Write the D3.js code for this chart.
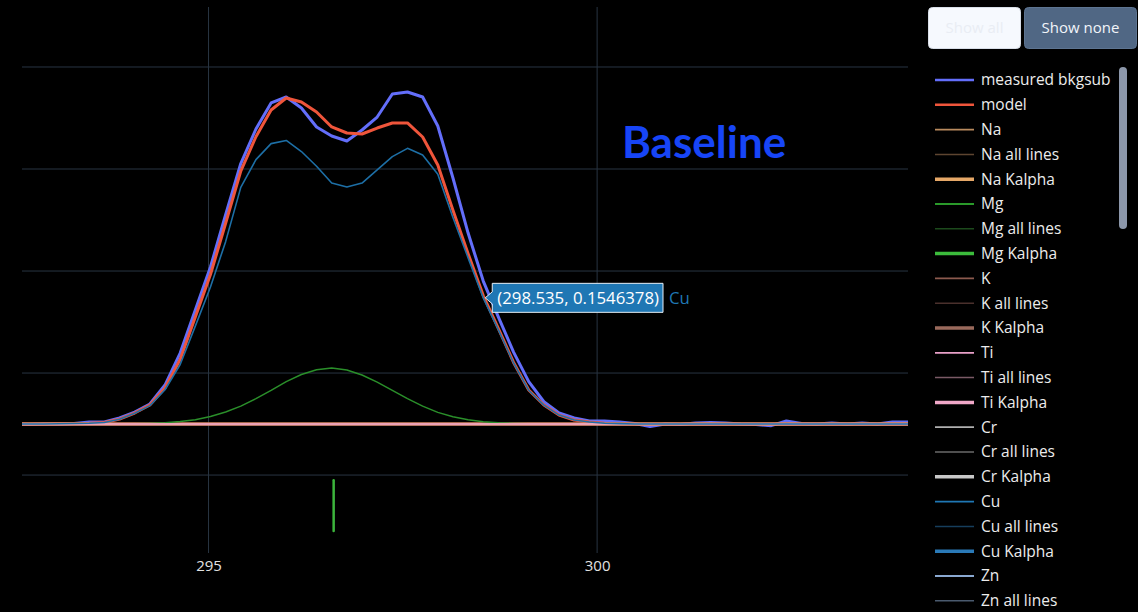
<!DOCTYPE html>
<html>
<head>
<meta charset="utf-8">
<script src="https://cdn.jsdelivr.net/npm/d3@7"></script>
<style>
  html, body { margin: 0; padding: 0; background: #000; }
  svg { display: block; font-family: "Open Sans", sans-serif; }
</style>
</head>
<body>
<svg id="chart" width="1138" height="612"></svg>
<script>
// Energy grid of the spectrum (step 0.195)
const energy = [
  292.490, 292.685, 292.880, 293.075, 293.270, 293.465, 293.660, 293.855, 294.050, 294.245,
  294.440, 294.635, 294.830, 295.025, 295.220, 295.415, 295.610, 295.805, 296.000, 296.195,
  296.390, 296.585, 296.780, 296.975, 297.170, 297.365, 297.560, 297.755, 297.950, 298.145,
  298.340, 298.535, 298.730, 298.925, 299.120, 299.315, 299.510, 299.705, 299.900, 300.095,
  300.290, 300.485, 300.680, 300.875, 301.070, 301.265, 301.460, 301.655, 301.850, 302.045,
  302.240, 302.435, 302.630, 302.825, 303.020, 303.215, 303.410, 303.605, 303.800, 303.995,
  304.190
];

// Background-subtracted measurement
const measuredBkgsub = [
  0, -0.0005, 0, 0.0002, 0.0006, 0.0025, 0.0025, 0.0074, 0.0147, 0.0245,
  0.0478, 0.087, 0.1397, 0.1924, 0.2567, 0.3192, 0.3615, 0.3934, 0.4007, 0.3873,
  0.364, 0.3529, 0.3468, 0.3603, 0.3762, 0.4044, 0.4069, 0.4007, 0.3652, 0.3015,
  0.234, 0.1752, 0.1311, 0.0882, 0.052, 0.0273, 0.0135, 0.0074, 0.0037, 0.0037,
  0.0025, 0.0006, -0.003, 0, -0.0006, 0.0012, 0.0018, 0.0012, 0, -0.0006,
  -0.002, 0.0037, 0.0006, 0, 0.0012, 0, 0.0012, 0, 0.0025, 0.0025,
  0.002
];

// Total fitted model
const modelFit = [
  0, 0, 0, 0.0003, 0.0006, 0.001, 0.002, 0.006, 0.0135, 0.0233,
  0.0441, 0.079, 0.1311, 0.1832, 0.246, 0.31, 0.352, 0.3848, 0.3995, 0.3946,
  0.3824, 0.364, 0.3566, 0.3554, 0.3627, 0.3689, 0.3689, 0.3517, 0.3174, 0.262,
  0.2088, 0.1575, 0.117, 0.0755, 0.0417, 0.0233, 0.011, 0.0049, 0.0025, 0.001,
  0.0005, 0, 0, 0, 0, 0, 0, 0, 0, 0,
  0, 0, 0, 0, 0, 0, 0, 0, 0, 0,
  0
];

// Mg component
const mgComponent = [
  0, 0, 0, 0, 0, 0, 0.0001, 0.0002, 0.0003, 0.0007,
  0.0015, 0.003, 0.0054, 0.0092, 0.0147, 0.022, 0.0311, 0.0412, 0.052, 0.0607,
  0.0665, 0.0686, 0.0662, 0.0601, 0.0513, 0.0412, 0.0311, 0.022, 0.0143, 0.0089,
  0.0052, 0.0029, 0.0015, 0.0007, 0.0003, 0.0001, 0, 0, 0, 0,
  0, 0, 0, 0, 0, 0, 0, 0, 0, 0,
  0, 0, 0, 0, 0, 0, 0, 0, 0, 0,
  0
];

// Cu component
const cuComponent = [
  0, 0, 0, 0.0003, 0.0006, 0.001, 0.0019, 0.0058, 0.0132, 0.0226,
  0.042, 0.073, 0.12, 0.168, 0.2235, 0.29, 0.324, 0.3436, 0.3475, 0.3339,
  0.3159, 0.2954, 0.2904, 0.2953, 0.3114, 0.3277, 0.3378, 0.3297, 0.306, 0.2531,
  0.2036, 0.1546378, 0.1155, 0.0748, 0.0414, 0.0232, 0.011, 0.0049, 0.0025, 0.001,
  0.0005, 0, 0, 0, 0, 0, 0, 0, 0, 0,
  0, 0, 0, 0, 0, 0, 0, 0, 0, 0,
  0
];

// Components that stay at zero over this window (Na, Ti)
const flatEnergy = [292.49, 304.19];
const flatLevel = [0, 0];

// Mg K-alpha line marker
const mgKalphaEnergy = [296.61, 296.61];
const mgKalphaLevel = [-0.069, -0.131];

const xTicks = [295, 300];
const yGrid = [-0.0625, 0.0625, 0.1875, 0.3125, 0.4375];

const hoverEnergy = 298.535;
const hoverTrace = "Cu";

const legendNames = [
  "measured bkgsub", "model",
  "Na", "Na all lines", "Na Kalpha",
  "Mg", "Mg all lines", "Mg Kalpha",
  "K", "K all lines", "K Kalpha",
  "Ti", "Ti all lines", "Ti Kalpha",
  "Cr", "Cr all lines", "Cr Kalpha",
  "Cu", "Cu all lines", "Cu Kalpha",
  "Zn", "Zn all lines"
];
const legendColors = [
  "#636efa", "#ef553b",
  "#b98a5e", "#5e4530", "#e6a868",
  "#2a9a2a", "#1c4a1c", "#3cbc3c",
  "#8c5a4e", "#4a302c", "#9a6a5c",
  "#e8a0c8", "#7a5a66", "#f0a8c8",
  "#b0b0b0", "#6a6a6a", "#c8c8c8",
  "#1f77b4", "#163e5c", "#2a7ab8",
  "#8aa8d0", "#4a5a6e"
];
const legendKinds = [
  "main", "main",
  "el", "all", "ka",
  "el", "all", "ka",
  "el", "all", "ka",
  "el", "all", "ka",
  "el", "all", "ka",
  "el", "all", "ka",
  "el", "all"
];

const svg = d3.select("#chart");
svg.append("rect").attr("width", 1138).attr("height", 612).attr("fill", "#000");

const plot = { left: 22, right: 908, top: 7, bottom: 553 };
const x = d3.scaleLinear().domain([292.6, 304.0]).range([plot.left, plot.right]);
const y = d3.scaleLinear().domain([-0.158, 0.511]).range([plot.bottom, plot.top]);

svg.append("defs").append("clipPath").attr("id", "plotClip")
  .append("rect")
  .attr("x", plot.left).attr("y", plot.top)
  .attr("width", plot.right - plot.left).attr("height", plot.bottom - plot.top);

// grid
const grid = svg.append("g");
grid.selectAll("line.h").data(yGrid).join("line")
  .attr("x1", plot.left).attr("x2", plot.right)
  .attr("y1", d => y(d)).attr("y2", d => y(d))
  .attr("stroke", "#283442").attr("stroke-width", 1);
grid.selectAll("line.v").data(xTicks).join("line")
  .attr("x1", d => x(d)).attr("x2", d => x(d))
  .attr("y1", plot.top).attr("y2", plot.bottom)
  .attr("stroke", "#283442").attr("stroke-width", 1);

// x axis labels
const xAxis = svg.append("g")
  .attr("transform", `translate(0,${plot.bottom})`)
  .call(d3.axisBottom(x).tickValues(xTicks).tickSize(0).tickPadding(7).tickFormat(d3.format("d")));
xAxis.select(".domain").remove();
xAxis.selectAll("text").attr("fill", "#e2e2e2").style("font-size", "15px")
  .style("font-family", "'Open Sans', sans-serif");

// traces
const traces = svg.append("g").attr("clip-path", "url(#plotClip)");
function series(xs, ys) { return xs.map((e, i) => [e, ys[i]]); }
const line = d3.line().x(d => x(d[0])).y(d => y(d[1]));
function draw(xs, ys, color, width) {
  traces.append("path").datum(series(xs, ys))
    .attr("d", line).attr("fill", "none")
    .attr("stroke", color).attr("stroke-width", width)
    .attr("stroke-linejoin", "round").attr("stroke-linecap", "round");
}

draw(energy, measuredBkgsub, "#636efa", 3);
draw(energy, modelFit, "#ef553b", 3);
draw(flatEnergy, flatLevel, "#d98a62", 3.5);
draw(energy, mgComponent, "#2a8f2a", 1.5);
draw(mgKalphaEnergy, mgKalphaLevel, "#3cb43c", 2.5);
draw(flatEnergy, flatLevel, "#eda2b6", 2.2);
draw(energy, cuComponent, "#1d6fa6", 1.6);

// "Baseline" annotation
svg.append("text")
  .attr("x", 622).attr("y", 158)
  .attr("fill", "#1745f7")
  .style("font-family", "Lato, 'Open Sans', sans-serif")
  .style("font-weight", "700")
  .style("font-size", "44px")
  .text("Baseline");

// hover label on the Cu trace
const hi = energy.indexOf(hoverEnergy);
const hx = x(energy[hi]), hy = y(cuComponent[hi]);
const hover = svg.append("g").attr("transform", `translate(${hx + 2},${hy})`);
const hoverPath = hover.append("path");
const hoverText = hover.append("text")
  .attr("x", 12).attr("y", 0).attr("dy", "0.35em")
  .attr("fill", "#ffffff").style("font-size", "16.8px")
  .text(`(${energy[hi].toFixed(3)}, ${cuComponent[hi]})`);
const tw = hoverText.node().getComputedTextLength();
const hh = 29;
hoverPath.attr("d", `M0,0L7,-6V${-hh / 2}H${12 + tw + 4}V${hh / 2}H7V6Z`)
  .attr("fill", "#1f77b4").attr("stroke", "#e6eef6").attr("stroke-width", 1);
hover.append("text")
  .attr("x", 12 + tw + 4 + 6).attr("y", 0).attr("dy", "0.35em")
  .attr("fill", "#1f77b4").style("font-size", "16.8px")
  .text(hoverTrace);

// buttons
const btn = svg.append("g");
btn.append("rect").attr("x", 928.5).attr("y", 7.5).attr("width", 92).attr("height", 41)
  .attr("rx", 4).attr("fill", "#f6f9fe").attr("stroke", "#d8dee8");
btn.append("text").attr("x", 974.5).attr("y", 28).attr("dy", "0.35em")
  .attr("text-anchor", "middle").attr("fill", "#e9edf4").style("font-size", "15px").text("Show all");
btn.append("rect").attr("x", 1024.5).attr("y", 7.5).attr("width", 112).attr("height", 41)
  .attr("rx", 4).attr("fill", "#506784").attr("stroke", "#5d7491");
btn.append("text").attr("x", 1080.5).attr("y", 28).attr("dy", "0.35em")
  .attr("text-anchor", "middle").attr("fill", "#f2f5fa").style("font-size", "15px").text("Show none");

// legend
const legend = svg.append("g");
const widthOf = { main: 2.5, el: 1.8, all: 1.5, ka: 3.5 };
const items = legend.selectAll("g").data(legendNames).join("g")
  .attr("transform", (d, i) => `translate(0,${80 + i * 24.8})`);
items.append("line")
  .attr("x1", 935).attr("x2", 974).attr("y1", 0).attr("y2", 0)
  .attr("stroke", (d, i) => legendColors[i])
  .attr("stroke-width", (d, i) => widthOf[legendKinds[i]]);
items.append("text")
  .attr("x", 981).attr("y", 0).attr("dy", "0.35em")
  .attr("fill", "#ececec").style("font-size", "15.5px")
  .text(d => d);

// legend scrollbar
legend.append("rect").attr("x", 1119).attr("y", 67).attr("width", 8).attr("height", 162)
  .attr("rx", 4).attr("fill", "#8c97aa");
</script>
</body>
</html>
